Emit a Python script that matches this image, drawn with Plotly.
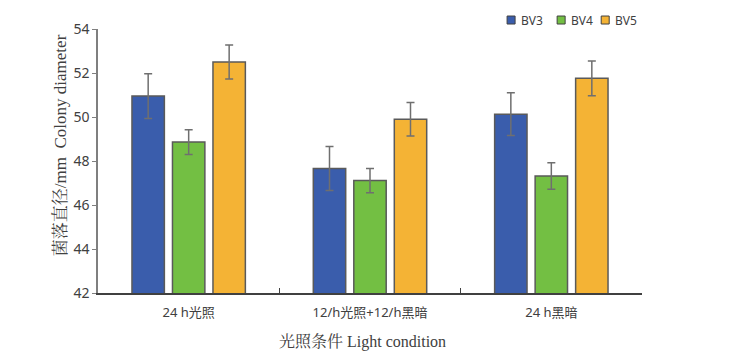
import plotly.graph_objects as go

categories = ["24 h光照", "12/h光照+12/h黑暗", "24 h黑暗"]
series_names = ["BV3", "BV4", "BV5"]
bv3 = [50.95, 47.66, 50.13]
bv4 = [48.86, 47.11, 47.32]
bv5 = [52.50, 49.90, 51.76]
bv3_err = [1.02, 1.00, 0.97]
bv4_err = [0.56, 0.55, 0.60]
bv5_err = [0.77, 0.76, 0.79]
colors = ["#3A5DAC", "#73BF43", "#F4B335"]
y_ticks = [42, 44, 46, 48, 50, 52, 54]
y_title = "菌落直径/mm  Colony diameter"
x_title = "光照条件 Light condition"

# legend layout (paper coordinates)
legend_x = [0.752, 0.844, 0.925]
legend_y = 1.034

fig = go.Figure()
for name, vals, errs, col in zip(series_names, [bv3, bv4, bv5], [bv3_err, bv4_err, bv5_err], colors):
    fig.add_trace(go.Bar(
        x=categories, y=vals, name=name, showlegend=False,
        marker=dict(color=col, line=dict(color="#5a5a5a", width=1.5)),
        error_y=dict(type="data", array=errs, visible=True, color="#6f6f6f", thickness=1.5, width=4),
    ))

serif = "Liberation Serif, Noto Serif CJK SC, Noto Sans CJK SC"
shapes = []
annotations = []
bw = 8 / 544
bh = 8 / 264
for name, col, lx in zip(series_names, colors, legend_x):
    shapes.append(dict(type="rect", xref="paper", yref="paper",
                       x0=lx, x1=lx + bw, y0=legend_y - bh / 2, y1=legend_y + bh / 2,
                       fillcolor=col, line=dict(color="#404040", width=1)))
    annotations.append(dict(text=name, xref="paper", yref="paper", x=lx + bw + 4 / 544, y=legend_y,
                            xanchor="left", yanchor="middle", showarrow=False,
                            font=dict(size=12, color="#404040", family="Noto Sans")))
annotations.append(dict(text=y_title, xref="paper", yref="paper", x=-38 / 544, y=0.56,
                        xanchor="center", yanchor="middle", textangle=-90, showarrow=False,
                        font=dict(size=17, color="#404040", family=serif)))
annotations.append(dict(text=x_title, xref="paper", yref="paper", x=0.487, y=-49 / 264,
                        xanchor="center", yanchor="middle", showarrow=False,
                        font=dict(size=16, color="#404040", family=serif)))

fig.update_layout(
    width=742, height=357,
    margin=dict(l=98, r=100, t=29, b=64),
    paper_bgcolor="white", plot_bgcolor="white",
    barmode="group", bargap=0.33, bargroupgap=0.2,
    font=dict(family="Noto Sans, Noto Sans CJK SC", color="#404040", size=13),
    shapes=shapes, annotations=annotations,
    xaxis=dict(showline=True, linecolor="#404040", linewidth=1.5, ticks="inside",
               tickson="boundaries", ticklen=5, tickcolor="#404040", automargin=False,
               ticklabelstandoff=7, tickfont=dict(size=13, color="#404040")),
    yaxis=dict(range=[42, 54], tickvals=y_ticks, showline=True, linecolor="#7f7f7f", linewidth=1.5,
               ticks="outside", ticklen=4, tickcolor="#7f7f7f", showgrid=False, zeroline=False,
               automargin=False, tickfont=dict(size=14, color="#404040")),
)
fig.write_html("out.html", config={"displayModeBar": False},
               post_script="document.body.style.margin='0';document.body.style.overflow='hidden';")
